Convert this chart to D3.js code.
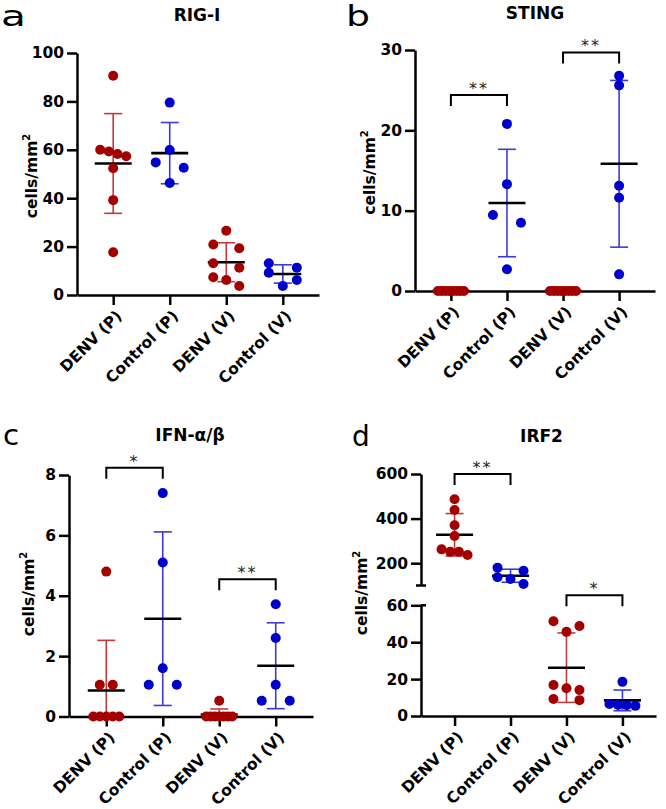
<!DOCTYPE html>
<html><head><meta charset="utf-8">
<script src="https://cdn.jsdelivr.net/npm/d3@7"></script>
<style>
body{margin:0;background:#fff}
svg{display:block}
text{font-family:"DejaVu Sans",Verdana,sans-serif}
</style>
</head><body>
<svg id="chart" width="666" height="809"></svg>
<script>
// ---------- data ----------
const categories = ["DENV (P)", "Control (P)", "DENV (V)", "Control (V)"];

const rigIValues = [
  [90.6, 60.0, 59.3, 58.3, 57.3, 52.4, 39.2, 17.7],
  [79.5, 59.9, 54.8, 52.6, 46.3],
  [26.6, 20.9, 19.3, 13.1, 11.3, 7.3, 6.2, 3.7],
  [13.1, 11.3, 9.2, 6.2, 3.7]
];
const stingValues = [
  [0, 0, 0, 0, 0, 0, 0, 0],
  [20.8, 13.3, 9.46, 8.5, 2.7],
  [0, 0, 0, 0, 0, 0, 0, 0],
  [26.8, 25.6, 13.1, 11.6, 2.07]
];
const ifnValues = [
  [4.8, 1.05, 1.05, 0, 0, 0, 0, 0],
  [7.4, 5.1, 1.6, 1.05, 1.05],
  [0.52, 0, 0, 0, 0, 0, 0, 0],
  [3.72, 2.6, 1.05, 0.52, 0.52]
];
const irf2Values = [
  [486.5, 438.6, 370, 322, 262, 251.6, 251.6, 236.8],
  [180, 166, 137, 129, 107],
  [51.4, 48.8, 45.6, 16.8, 15.0, 14.1, 9.2, 8.6],
  [18.5, 6.5, 6.0, 5.8, 5.5]
];

const rigITicks = [0, 20, 40, 60, 80, 100];
const stingTicks = [0, 10, 20, 30];
const ifnTicks = [0, 2, 4, 6, 8];
const irf2TopTicks = [200, 400, 600];
const irf2BottomTicks = [0, 20, 40, 60];

const stingSig = [
  {from: "DENV (P)", to: "Control (P)", level: 24.4, label: "**"},
  {from: "DENV (V)", to: "Control (V)", level: 29.7, label: "**"}
];
const ifnSig = [
  {from: "DENV (P)", to: "Control (P)", level: 8.24, label: "*"},
  {from: "DENV (V)", to: "Control (V)", level: 4.55, label: "**"}
];
const irf2Sig = [
  {from: "DENV (P)", to: "Control (P)", level: 600, label: "**"},
  {from: "DENV (V)", to: "Control (V)", level: 65.4, label: "*"}
];

const panelLetters = ["a", "b", "c", "d"];
const panelTitles = ["RIG-I", "STING", "IFN-\u03b1/\u03b2", "IRF2"];

// ---------- styles ----------
const DOT = ["#a50000", "#0000cc", "#a50000", "#0000cc"];
const BAR = ["#c23a3a", "#3a3ad8", "#c23a3a", "#3a3ad8"];
const R = 5;
const BOLD_FONT = "'DejaVu Sans', Verdana, sans-serif";

const svg = d3.select("#chart");

function swarm(vals, yMap) {
  const items = vals.map((v, i) => ({v, y: yMap(v), i})).sort((a, b) => a.y - b.y);
  const rows = []; let cur = null;
  items.forEach(it => {
    if (!cur || it.y - cur.y0 >= 9) { cur = {y0: it.y, items: []}; rows.push(cur); }
    cur.items.push(it);
  });
  const m = d3.max(rows, r => r.items.length);
  const u = m > 1 ? Math.min(14, 26 / (m - 1)) : 14;
  rows.forEach(r => {
    const n = r.items.length;
    r.items.forEach((it, k) => {
      it.dx = n === 1 ? 0 : n === 2 ? (k === 0 ? -u : u) : (k - (n - 1) / 2) * u;
    });
  });
  return items;
}

function styleAxis(g) {
  g.attr("font-family", null).attr("font-size", null);
  g.selectAll("path,line").attr("stroke", "#000").attr("stroke-width", 2.5);
  g.selectAll("text").attr("fill", "#000").attr("font-weight", "bold")
    .attr("font-family", BOLD_FONT).attr("font-size", "15.5px");
}

function drawPanel(p) {
  const g = svg.append("g");
  const x = d3.scalePoint().domain(categories).range([p.x0, p.x1]).padding(p.pad);

  // y axis (one or two segments)
  p.segments.forEach(seg => {
    const ax = g.append("g").attr("transform", `translate(${p.x0},0)`)
      .call(d3.axisLeft(seg.scale).tickValues(seg.ticks).tickSize(10).tickSizeOuter(0).tickPadding(3));
    styleAxis(ax);
    if (seg.capBottom) ax.append("line").attr("x1", -5).attr("x2", 5)
      .attr("y1", seg.scale.range()[0]).attr("y2", seg.scale.range()[0]).attr("stroke", "#000").attr("stroke-width", 2.5);
    if (seg.capTop) ax.append("line").attr("x1", 0).attr("x2", 5)
      .attr("y1", seg.scale.range()[1]).attr("y2", seg.scale.range()[1]).attr("stroke", "#000").attr("stroke-width", 2.5);
  });

  // x axis
  const xa = g.append("g").attr("transform", `translate(0,${p.yBase})`)
    .call(d3.axisBottom(x).tickSize(10).tickSizeOuter(0));
  styleAxis(xa);
  xa.selectAll("text").attr("y", 0).attr("dy", 0)
    .attr("font-size", "15.5px")
    .attr("text-anchor", "end")
    .attr("transform", "translate(9,22) rotate(-45)");

  // groups
  categories.forEach((c, ci) => {
    const vals = p.values[ci];
    const cx = x(c);
    const mean = d3.mean(vals);
    const sd = d3.deviation(vals) || 0;
    const hi = mean + sd;
    const lo = Math.max(p.minVal, mean - sd);
    if (sd > 0) {
      g.append("line").attr("x1", cx).attr("x2", cx).attr("y1", p.y(lo)).attr("y2", p.y(hi))
        .attr("stroke", BAR[ci]).attr("stroke-width", 1.6);
      g.append("line").attr("x1", cx - 9).attr("x2", cx + 9).attr("y1", p.y(hi)).attr("y2", p.y(hi))
        .attr("stroke", BAR[ci]).attr("stroke-width", 1.6);
      if (mean - sd > p.minVal)
        g.append("line").attr("x1", cx - 9).attr("x2", cx + 9).attr("y1", p.y(lo)).attr("y2", p.y(lo))
          .attr("stroke", BAR[ci]).attr("stroke-width", 1.6);
    }
    g.append("line").attr("x1", cx - 18.5).attr("x2", cx + 18.5).attr("y1", p.y(mean)).attr("y2", p.y(mean))
      .attr("stroke", "#000").attr("stroke-width", 2.6);
    const pts = swarm(vals, p.y);
    g.selectAll(null).data(pts).enter().append("circle")
      .attr("cx", d => cx + d.dx).attr("cy", d => d.y).attr("r", R).attr("fill", DOT[ci]);
  });

  // significance brackets
  p.sig.forEach(s => {
    const xa1 = x(s.from), xb1 = x(s.to), yy = p.y(s.level);
    g.append("path").attr("d", `M${xa1},${yy + 11}V${yy}H${xb1}V${yy + 11}`)
      .attr("fill", "none").attr("stroke", "#000").attr("stroke-width", 2);
    g.append("text").attr("x", (xa1 + xb1) / 2).attr("y", yy - 1).attr("text-anchor", "middle")
      .attr("font-family", "'Liberation Sans', Arial, sans-serif")
      .attr("font-size", "16px").attr("letter-spacing", "2px").attr("fill", "#222").text(s.label);
  });

  // title
  g.append("text").attr("x", p.titleX).attr("y", p.titleY).attr("text-anchor", "middle")
    .attr("font-family", BOLD_FONT).attr("font-weight", "bold").attr("font-size", "17px").text(p.title);

  // y label
  const yl = g.append("text").attr("transform", `translate(${p.ylabX},${p.ylabY}) rotate(-90)`)
    .attr("text-anchor", "middle").attr("font-family", BOLD_FONT)
    .attr("font-weight", "bold").attr("font-size", "15.5px");
  yl.append("tspan").text("cells/mm");
  yl.append("tspan").attr("font-size", "10px").attr("dy", "-7").text("2");

  // panel letter
  g.append("text").attr("transform", `translate(${p.letterX},${p.letterY}) scale(${p.letterSX},1)`)
    .attr("font-family", "Roboto, sans-serif").attr("font-size", "28px").text(p.letter);
}

// ---------- panels ----------
const yA = d3.scaleLinear().domain([0, 100]).range([295, 53]);
const yB = d3.scaleLinear().domain([0, 30]).range([291, 50]);
const yC = d3.scaleLinear().domain([0, 8]).range([716.5, 475]);
const yDTop = d3.scaleLinear().domain([100, 600]).range([585.5, 474]);
const yDBot = d3.scaleLinear().domain([0, 60]).range([716, 605.3]);
const yD = v => v >= 100 ? yDTop(v) : yDBot(v);

drawPanel({letter: panelLetters[0], title: panelTitles[0], values: rigIValues, x0: 77, x1: 319, pad: 0.64,
  y: yA, yBase: 295, minVal: 0, segments: [{scale: yA, ticks: rigITicks}], sig: [],
  titleX: 197, titleY: 21, ylabX: 36.5, ylabY: 176, letterX: 1, letterY: 26, letterSX: 1.45});
drawPanel({letter: panelLetters[1], title: panelTitles[1], values: stingValues, x0: 415, x1: 655, pad: 0.64,
  y: yB, yBase: 291, minVal: 0, segments: [{scale: yB, ticks: stingTicks}], sig: stingSig,
  titleX: 535, titleY: 18.5, ylabX: 374.5, ylabY: 172.5, letterX: 346, letterY: 26, letterSX: 1.35});
drawPanel({letter: panelLetters[2], title: panelTitles[2], values: ifnValues, x0: 69, x1: 313, pad: 0.66,
  y: yC, yBase: 716.5, minVal: 0, segments: [{scale: yC, ticks: ifnTicks}], sig: ifnSig,
  titleX: 190, titleY: 441, ylabX: 34, ylabY: 594, letterX: 3, letterY: 445, letterSX: 1.05});
drawPanel({letter: panelLetters[3], title: panelTitles[3], values: irf2Values, x0: 421, x1: 656, pad: 0.6,
  y: yD, yBase: 716, minVal: 0,
  segments: [{scale: yDTop, ticks: irf2TopTicks, capBottom: true}, {scale: yDBot, ticks: irf2BottomTicks, capTop: true}],
  sig: irf2Sig,
  titleX: 541.5, titleY: 441.5, ylabX: 367, ylabY: 593, letterX: 352, letterY: 446, letterSX: 1});
</script>
</body></html>
